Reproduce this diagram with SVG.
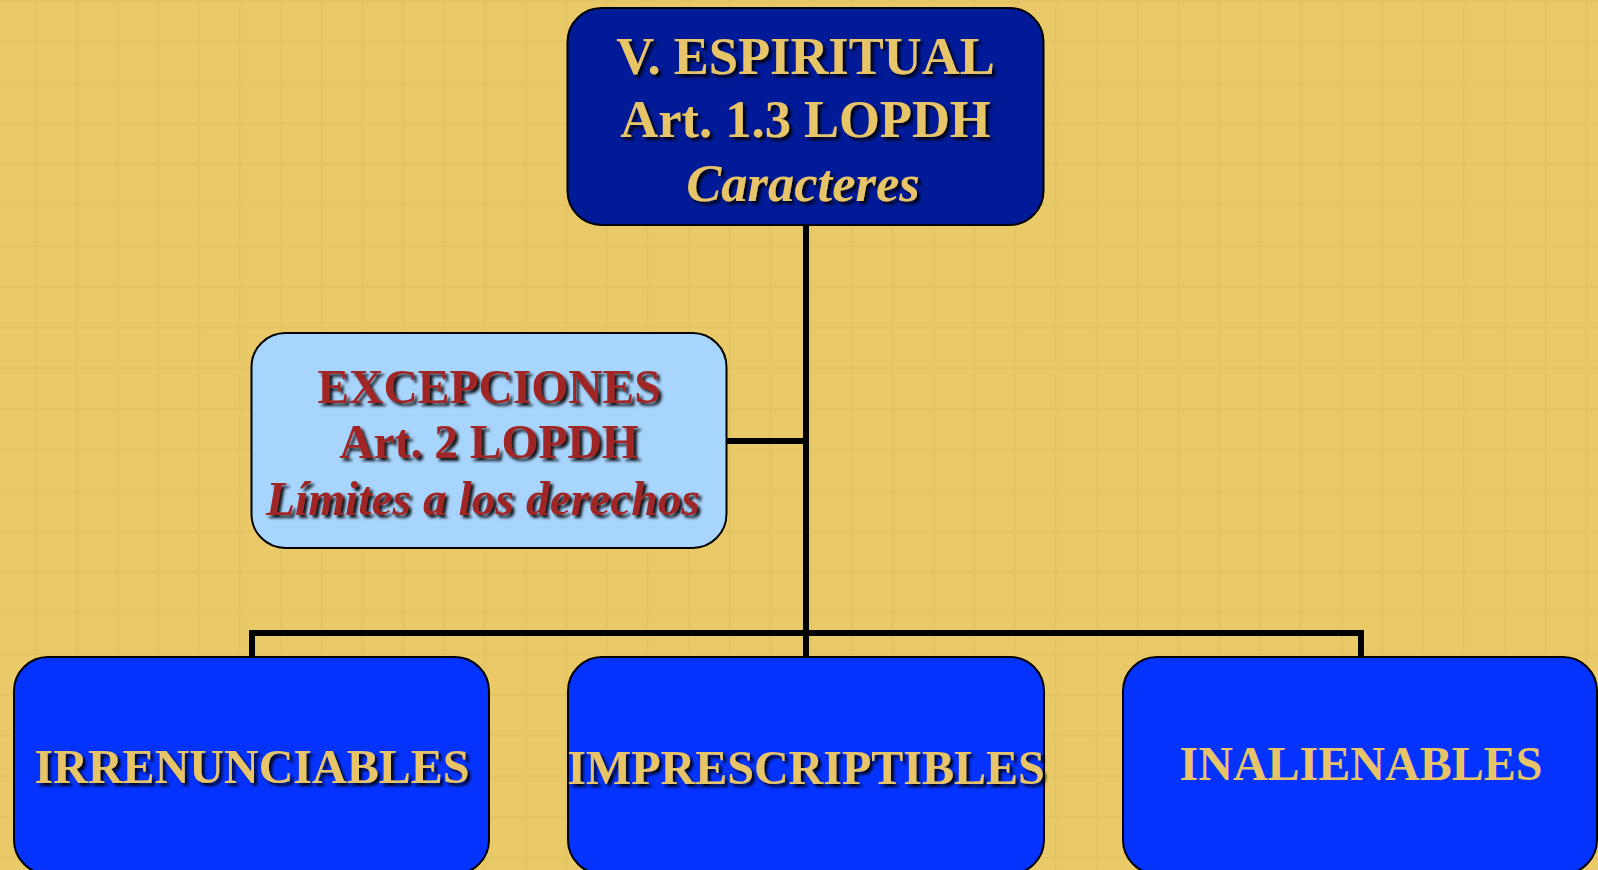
<svg xmlns="http://www.w3.org/2000/svg" width="1598" height="870" viewBox="0 0 1598 870">
  <defs>
    <pattern id="grid" x="15.5" y="21.5" width="40.8" height="40.8" patternUnits="userSpaceOnUse">
      <path d="M20.4,0 V40.8 M0,20.4 H40.8" fill="none" stroke="#E2C160" stroke-width="2" opacity="0.7"/>
    </pattern>
    <filter id="shadow" x="-10%" y="-30%" width="125%" height="170%">
      <feDropShadow dx="3" dy="3" stdDeviation="1.6" flood-color="#000" flood-opacity="0.9"/>
    </filter>
  </defs>
  <style>
    .box { stroke: #000; stroke-width: 2; }
    .top { fill: #001A98; }
    .exc { fill: #A8D5FD; }
    .leaf { fill: #0533FE; }
    .t { font-family: "Liberation Serif", "Times New Roman", serif; font-weight: bold; text-anchor: middle; }
    .gold { fill: #E8C468; }
    .red { fill: #A02626; }
    .it { font-style: italic; }
    .sh { filter: url(#shadow); }
    .conn { fill: none; stroke: #000; stroke-width: 6; stroke-linejoin: miter; }
  </style>
  <rect width="1598" height="870" fill="#E9C968"/>
  <rect width="1598" height="870" fill="url(#grid)"/>

  <g id="connectors">
    <path class="conn" d="M806,225 V657"/>
    <path class="conn" d="M727,441 H806"/>
    <path class="conn" d="M252,657 V633 H1361 V657"/>
  </g>

  <g id="node-espiritual">
    <rect class="box top" x="567.5" y="8" width="476" height="217" rx="34"/>
    <g class="sh">
      <text class="t gold" x="805.5" y="74" font-size="52.5">V. ESPIRITUAL</text>
      <text class="t gold" x="805.5" y="137" font-size="52.5">Art. 1.3 LOPDH</text>
      <text class="t gold it" x="803" y="201" font-size="52.5">Caracteres</text>
    </g>
  </g>

  <g id="node-excepciones">
    <rect class="box exc" x="251.5" y="333" width="475" height="215" rx="34"/>
    <g class="sh">
      <text class="t red" x="489" y="403" font-size="47.5">EXCEPCIONES</text>
      <text class="t red" x="489" y="458" font-size="47.5">Art. 2 LOPDH</text>
      <text class="t red it" x="483" y="515" font-size="47.5">Límites a los derechos</text>
    </g>
  </g>

  <g id="node-irrenunciables">
    <rect class="box leaf" x="14" y="657" width="475" height="217" rx="34"/>
    <text class="t gold sh" x="252" y="783" font-size="48">IRRENUNCIABLES</text>
  </g>

  <g id="node-imprescriptibles">
    <rect class="box leaf" x="568" y="657" width="476" height="217" rx="34"/>
    <text class="t gold sh" x="806" y="784" font-size="48">IMPRESCRIPTIBLES</text>
  </g>

  <g id="node-inalienables">
    <rect class="box leaf" x="1123" y="657" width="474" height="217" rx="34"/>
    <text class="t gold" x="1361" y="780" font-size="48">INALIENABLES</text>
  </g>
</svg>
